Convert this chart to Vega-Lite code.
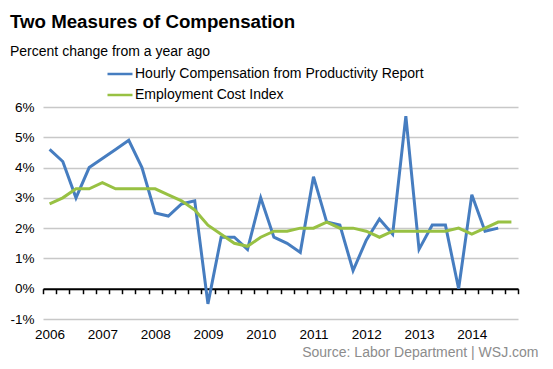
{
  "$schema": "https://vega.github.io/schema/vega-lite/v6.json",
  "width": 475,
  "height": 212,
  "autosize": {"type": "none"},
  "padding": {"left": 43, "top": 107, "right": 35, "bottom": 50},
  "background": "white",
  "config": {"font": "Liberation Sans", "view": {"stroke": null}},
  "title": {
    "text": "Two Measures of Compensation",
    "subtitle": "Percent change from a year ago",
    "anchor": "start",
    "frame": "bounds",
    "fontSize": 18.7,
    "fontWeight": "bold",
    "color": "#000000",
    "subtitleFontSize": 14,
    "subtitleColor": "#000000",
    "subtitlePadding": 13,
    "offset": 1
  },
  "datasets": {
    "comp": [
      {"q": 0, "series": "Hourly Compensation from Productivity Report", "value": 4.6},
      {"q": 1, "series": "Hourly Compensation from Productivity Report", "value": 4.2},
      {"q": 2, "series": "Hourly Compensation from Productivity Report", "value": 3.0},
      {"q": 3, "series": "Hourly Compensation from Productivity Report", "value": 4.0},
      {"q": 4, "series": "Hourly Compensation from Productivity Report", "value": 4.3},
      {"q": 5, "series": "Hourly Compensation from Productivity Report", "value": 4.6},
      {"q": 6, "series": "Hourly Compensation from Productivity Report", "value": 4.9},
      {"q": 7, "series": "Hourly Compensation from Productivity Report", "value": 4.0},
      {"q": 8, "series": "Hourly Compensation from Productivity Report", "value": 2.5},
      {"q": 9, "series": "Hourly Compensation from Productivity Report", "value": 2.4},
      {"q": 10, "series": "Hourly Compensation from Productivity Report", "value": 2.8},
      {"q": 11, "series": "Hourly Compensation from Productivity Report", "value": 2.9},
      {"q": 12, "series": "Hourly Compensation from Productivity Report", "value": -0.5},
      {"q": 13, "series": "Hourly Compensation from Productivity Report", "value": 1.7},
      {"q": 14, "series": "Hourly Compensation from Productivity Report", "value": 1.7},
      {"q": 15, "series": "Hourly Compensation from Productivity Report", "value": 1.3},
      {"q": 16, "series": "Hourly Compensation from Productivity Report", "value": 3.0},
      {"q": 17, "series": "Hourly Compensation from Productivity Report", "value": 1.7},
      {"q": 18, "series": "Hourly Compensation from Productivity Report", "value": 1.5},
      {"q": 19, "series": "Hourly Compensation from Productivity Report", "value": 1.2},
      {"q": 20, "series": "Hourly Compensation from Productivity Report", "value": 3.7},
      {"q": 21, "series": "Hourly Compensation from Productivity Report", "value": 2.2},
      {"q": 22, "series": "Hourly Compensation from Productivity Report", "value": 2.1},
      {"q": 23, "series": "Hourly Compensation from Productivity Report", "value": 0.6},
      {"q": 24, "series": "Hourly Compensation from Productivity Report", "value": 1.6},
      {"q": 25, "series": "Hourly Compensation from Productivity Report", "value": 2.3},
      {"q": 26, "series": "Hourly Compensation from Productivity Report", "value": 1.8},
      {"q": 27, "series": "Hourly Compensation from Productivity Report", "value": 5.7},
      {"q": 28, "series": "Hourly Compensation from Productivity Report", "value": 1.3},
      {"q": 29, "series": "Hourly Compensation from Productivity Report", "value": 2.1},
      {"q": 30, "series": "Hourly Compensation from Productivity Report", "value": 2.1},
      {"q": 31, "series": "Hourly Compensation from Productivity Report", "value": 0.0},
      {"q": 32, "series": "Hourly Compensation from Productivity Report", "value": 3.1},
      {"q": 33, "series": "Hourly Compensation from Productivity Report", "value": 1.9},
      {"q": 34, "series": "Hourly Compensation from Productivity Report", "value": 2.0},
      {"q": 0, "series": "Employment Cost Index", "value": 2.8},
      {"q": 1, "series": "Employment Cost Index", "value": 3.0},
      {"q": 2, "series": "Employment Cost Index", "value": 3.3},
      {"q": 3, "series": "Employment Cost Index", "value": 3.3},
      {"q": 4, "series": "Employment Cost Index", "value": 3.5},
      {"q": 5, "series": "Employment Cost Index", "value": 3.3},
      {"q": 6, "series": "Employment Cost Index", "value": 3.3},
      {"q": 7, "series": "Employment Cost Index", "value": 3.3},
      {"q": 8, "series": "Employment Cost Index", "value": 3.3},
      {"q": 9, "series": "Employment Cost Index", "value": 3.1},
      {"q": 10, "series": "Employment Cost Index", "value": 2.9},
      {"q": 11, "series": "Employment Cost Index", "value": 2.6},
      {"q": 12, "series": "Employment Cost Index", "value": 2.1},
      {"q": 13, "series": "Employment Cost Index", "value": 1.8},
      {"q": 14, "series": "Employment Cost Index", "value": 1.5},
      {"q": 15, "series": "Employment Cost Index", "value": 1.4},
      {"q": 16, "series": "Employment Cost Index", "value": 1.7},
      {"q": 17, "series": "Employment Cost Index", "value": 1.9},
      {"q": 18, "series": "Employment Cost Index", "value": 1.9},
      {"q": 19, "series": "Employment Cost Index", "value": 2.0},
      {"q": 20, "series": "Employment Cost Index", "value": 2.0},
      {"q": 21, "series": "Employment Cost Index", "value": 2.2},
      {"q": 22, "series": "Employment Cost Index", "value": 2.0},
      {"q": 23, "series": "Employment Cost Index", "value": 2.0},
      {"q": 24, "series": "Employment Cost Index", "value": 1.9},
      {"q": 25, "series": "Employment Cost Index", "value": 1.7},
      {"q": 26, "series": "Employment Cost Index", "value": 1.9},
      {"q": 27, "series": "Employment Cost Index", "value": 1.9},
      {"q": 28, "series": "Employment Cost Index", "value": 1.9},
      {"q": 29, "series": "Employment Cost Index", "value": 1.9},
      {"q": 30, "series": "Employment Cost Index", "value": 1.9},
      {"q": 31, "series": "Employment Cost Index", "value": 2.0},
      {"q": 32, "series": "Employment Cost Index", "value": 1.8},
      {"q": 33, "series": "Employment Cost Index", "value": 2.0},
      {"q": 34, "series": "Employment Cost Index", "value": 2.2},
      {"q": 35, "series": "Employment Cost Index", "value": 2.2}
    ]
  },
  "data": {"name": "comp"},
  "encoding": {
    "y": {
      "field": "value",
      "type": "quantitative",
      "scale": {"domain": [-1, 6], "nice": false, "zero": false},
      "axis": {
        "values": [-1, 0, 1, 2, 3, 4, 5, 6],
        "labelExpr": "datum.value + '%'",
        "title": null,
        "domain": false,
        "ticks": false,
        "grid": true,
        "gridColor": "#c8c8c8",
        "gridWidth": 1.5,
        "labelFontSize": 13.5,
        "labelColor": "#000000",
        "labelPadding": 9
      }
    },
    "color": {
      "field": "series",
      "type": "nominal",
      "scale": {
        "domain": ["Hourly Compensation from Productivity Report", "Employment Cost Index"],
        "range": ["#467dc0", "#98c143"]
      },
      "legend": {
        "orient": "none",
        "legendX": 63,
        "legendY": -47,
        "title": null,
        "symbolType": "stroke",
        "symbolStrokeWidth": 2.5,
        "symbolSize": 625,
        "labelFontSize": 14,
        "labelColor": "#000000",
        "labelOffset": 1,
        "labelLimit": 0,
        "rowPadding": -5,
        "padding": 0
      }
    }
  },
  "layer": [
    {
      "transform": [{"filter": "datum.series == 'Hourly Compensation from Productivity Report'"}],
      "mark": {"type": "line", "strokeWidth": 3},
      "encoding": {
        "x": {
          "field": "q",
          "type": "quantitative",
          "scale": {"domain": [-0.5, 35.5], "nice": false, "zero": false},
          "axis": {
            "orient": "bottom",
            "values": [0, 4, 8, 12, 16, 20, 24, 28, 32],
            "labelExpr": "'' + (2006 + datum.value / 4)",
            "grid": false,
            "domain": false,
            "ticks": false,
            "labelFontSize": 13.5,
            "labelColor": "#000000",
            "labelPadding": 8,
            "title": "Source: Labor Department  |  WSJ.com",
            "titleFontSize": 14,
            "titleFontWeight": "normal",
            "titleColor": "#8c8c8c",
            "titleAnchor": "end",
            "titleAlign": "right",
            "titleX": 495,
            "titlePadding": 5
          }
        }
      }
    },
    {
      "transform": [{"filter": "datum.series == 'Employment Cost Index'"}],
      "mark": {"type": "line", "strokeWidth": 3},
      "encoding": {
        "x": {
          "field": "q",
          "type": "quantitative",
          "scale": {"domain": [-0.5, 35.5], "nice": false, "zero": false},
          "axis": {
            "orient": "bottom",
            "zindex": 0,
            "values": [-0.5, 0.5, 1.5, 2.5, 3.5, 4.5, 5.5, 6.5, 7.5, 8.5, 9.5, 10.5, 11.5, 12.5, 13.5, 14.5, 15.5, 16.5, 17.5, 18.5, 19.5, 20.5, 21.5, 22.5, 23.5, 24.5, 25.5, 26.5, 27.5, 28.5, 29.5, 30.5, 31.5, 32.5, 33.5, 34.5, 35.5],
            "labels": false,
            "grid": false,
            "domain": true,
            "domainColor": "#000000",
            "domainWidth": 2,
            "ticks": true,
            "tickColor": "#000000",
            "tickWidth": 1.5,
            "tickSize": 5,
            "offset": -30.29,
            "title": null
          }
        }
      }
    }
  ],
  "resolve": {"axis": {"x": "independent"}}
}
